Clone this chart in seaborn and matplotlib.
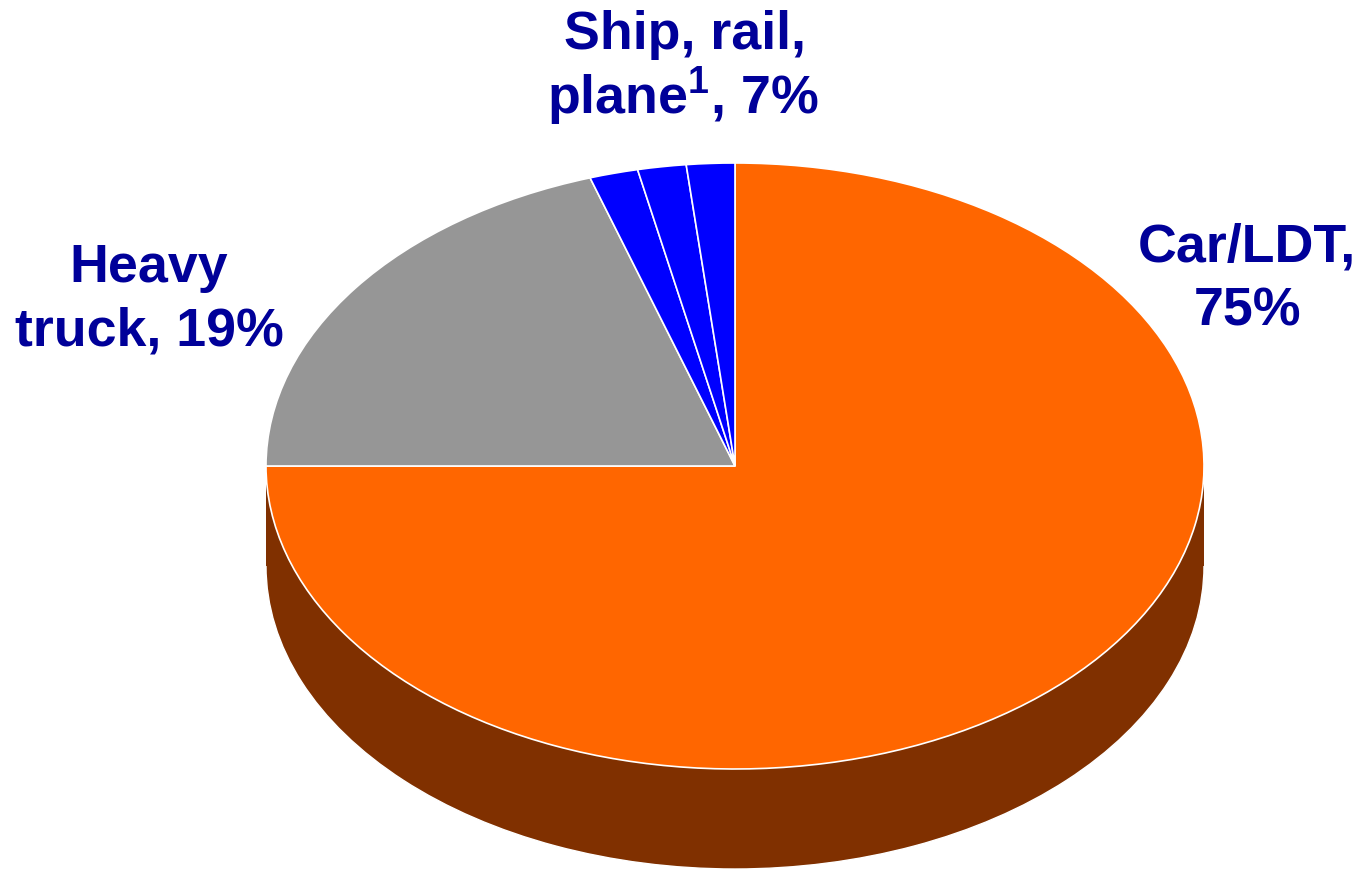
import matplotlib
matplotlib.use('Agg')
import matplotlib.pyplot as plt
import seaborn as sns

# slices going clockwise from the top of the pie
categories = ['Car/LDT', 'Heavy truck', 'Ship', 'Rail', 'Plane']
shares = [75, 20, 1.67, 1.67, 1.66]
label_lines = ['Car/LDT,', '75%', 'Heavy', 'truck, 19%', 'Ship, rail,',
               'plane$^{\\mathbf{1}}$, 7%']

colors = ['#FF6600', '#969696', '#0000FF', '#0000FF', '#0000FF']
side_color = '#803000'
text_color = '#000099'

W, H = 1361, 869
cx, cy, rx, ry = 735, 466, 469, 303
depth = 100 / ry

# centre x and baseline y of each label line, in pixels
line_x = [1247, 1247, 149, 149, 685, 683]
line_y = [261, 326, 282, 345, 49, 114]

sns.set_theme(style='white')
plt.rcParams['font.family'] = ['Liberation Sans', 'DejaVu Sans']
plt.rcParams['mathtext.fontset'] = 'custom'
plt.rcParams['mathtext.bf'] = 'Liberation Sans:bold'

fig = plt.figure(figsize=(W / 100, H / 100), dpi=100)
ax = fig.add_axes([0, 0, 1, 1])

# side of the 3d pie: same pie moved down plus a band between both
ax.pie([1], colors=[side_color], center=(0, -depth), radius=1)
ax.fill_between([-1, 1], [0, 0], [-depth, -depth], color=side_color, lw=0)

ax.pie(shares, colors=colors, startangle=90, counterclock=False,
       wedgeprops={'edgecolor': 'white', 'linewidth': 1.2})

# pie() forces equal aspect, the tilt needs it squashed
ax.set_aspect('auto')
ax.set_xlim(-cx / rx, (W - cx) / rx)
ax.set_ylim((cy - H) / ry, cy / ry)

for lab, x, y in zip(label_lines, line_x, line_y):
    ax.text((x - cx) / rx, (cy - y) / ry, lab, ha='center', va='baseline',
            fontsize=38.7, fontweight='bold', color=text_color)

fig.savefig('out.png', dpi=100)
